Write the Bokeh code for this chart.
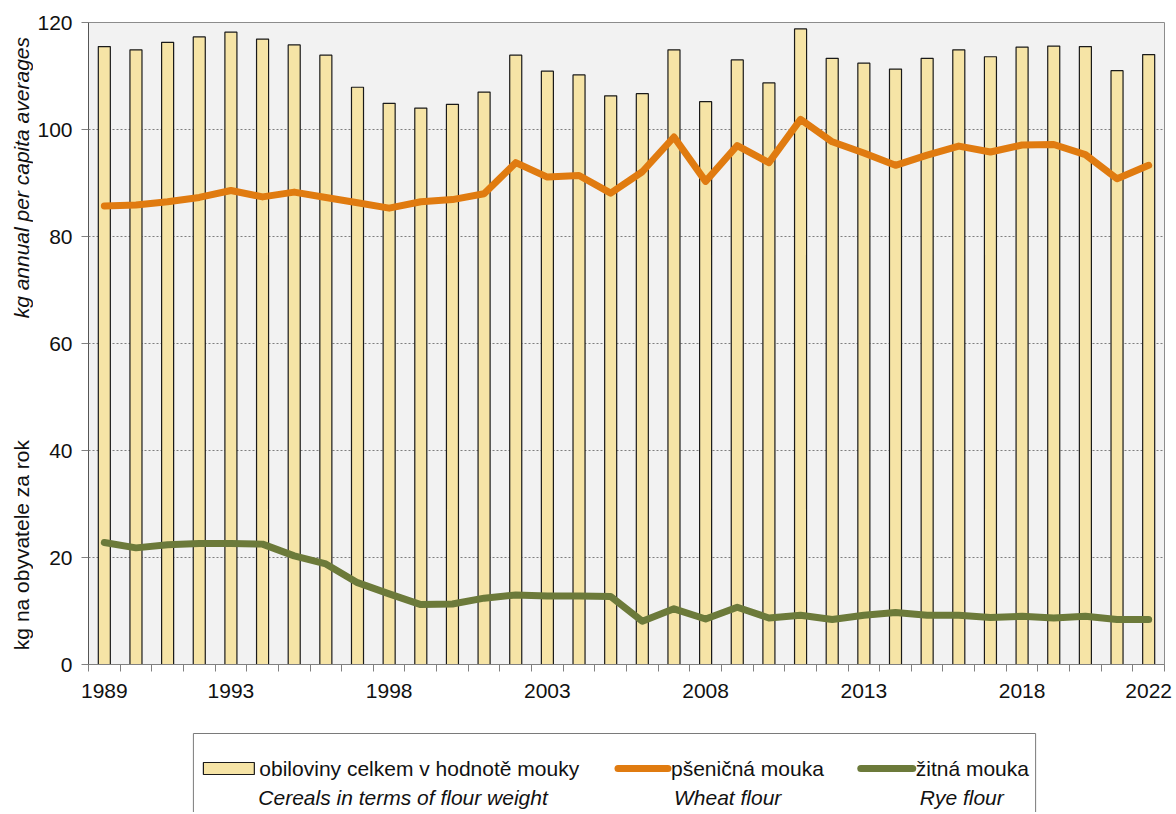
from bokeh.plotting import figure
from bokeh.models import Range1d, FixedTicker, Div
from bokeh.layouts import column, row
from bokeh.embed import file_html
from bokeh.resources import INLINE
from bokeh.core.properties import value

# ---------------- data ----------------
years = list(range(1989, 2023))
cereals = [115.5, 114.9, 116.3, 117.3, 118.2, 116.9, 115.8, 113.9, 107.9, 104.9,
           104.0, 104.7, 107.0, 113.9, 110.9, 110.2, 106.3, 106.7, 114.9, 105.2,
           113.0, 108.7, 118.8, 113.3, 112.4, 111.3, 113.3, 114.9, 113.6, 115.4,
           115.6, 115.5, 111.0, 114.0]
wheat = [85.7, 85.9, 86.5, 87.3, 88.6, 87.4, 88.3, 87.3, 86.3, 85.3,
         86.5, 86.9, 88.0, 93.8, 91.1, 91.4, 88.1, 92.1, 98.6, 90.3,
         97.0, 93.8, 101.9, 97.7, 95.6, 93.3, 95.2, 96.9, 95.8, 97.1,
         97.2, 95.3, 90.8, 93.3]
rye = [22.8, 21.8, 22.4, 22.6, 22.6, 22.5, 20.3, 18.8, 15.3, 13.2,
       11.2, 11.3, 12.4, 13.0, 12.8, 12.8, 12.7, 8.1, 10.4, 8.5,
       10.7, 8.7, 9.2, 8.4, 9.2, 9.7, 9.2, 9.2, 8.8, 9.0,
       8.7, 9.0, 8.4, 8.4]
tick_years = [1989, 1993, 1998, 2003, 2008, 2013, 2018, 2022]
tick_labels = ["1989", "1993", "1998", "2003", "2008", "2013", "2018", "2022"]
y_ticks = [0, 20, 40, 60, 80, 100, 120]
legend_cz = ["obiloviny celkem v hodnotě mouky", "pšeničná mouka", "žitná mouka"]
legend_en = ["Cereals in terms of flour weight", "Wheat flour", "Rye flour"]
ylabel_cz = "kg na obyvatele za rok"
ylabel_en = "kg annual per capita averages"

# ---------------- styles ----------------
FONT = "Liberation Sans"
FS = "21px"
BAR_FILL = "#F6E4A6"
BAR_LINE = "#1a1a1a"
WHEAT_C = "#E07B10"
RYE_C = "#6C7A3A"
GRID_C = "#7f7f7f"

DIV_W = 34
W = 1172 - DIV_W
BL, BR, BT, BB = 87 - DIV_W, 8, 22, 52
H = 716
LEG_H = 96

x0, x1 = years[0] - 0.5, years[-1] + 0.5

# ---------------- main chart ----------------
p = figure(width=W, height=H,
           x_range=Range1d(x0, x1), y_range=Range1d(0, 120),
           output_backend="svg", toolbar_location=None,
           min_border_left=BL, min_border_right=BR,
           min_border_top=BT, min_border_bottom=BB,
           background_fill_color="#F2F2F2", border_fill_color="white",
           outline_line_color="#8c8c8c")

p.vbar(x=years, top=cereals, width=0.38, bottom=0,
       fill_color=BAR_FILL, line_color=BAR_LINE, line_width=1.2)
p.line(x=years, y=wheat, line_color=WHEAT_C, line_width=7,
       line_join="round", line_cap="round")
p.line(x=years, y=rye, line_color=RYE_C, line_width=7,
       line_join="round", line_cap="round")

# x axis: labels at selected years, tick marks at category boundaries
xa = p.xaxis[0]
xa.ticker = FixedTicker(ticks=tick_years,
                        minor_ticks=[y - 0.5 for y in years] + [years[-1] + 0.5])
xa.major_label_overrides = {y: l for y, l in zip(tick_years, tick_labels)}
xa.major_tick_out = 0
xa.major_tick_in = 0
xa.minor_tick_out = 7
xa.minor_tick_in = 0
xa.minor_tick_line_color = "#808080"
xa.axis_line_color = "#808080"
xa.major_label_standoff = 12
xa.major_label_text_font = FONT
xa.major_label_text_font_size = FS
xa.major_label_text_color = "#111111"

ya = p.yaxis[0]
ya.ticker = FixedTicker(ticks=y_ticks)
ya.major_tick_out = 7
ya.major_tick_in = 0
ya.minor_tick_out = 0
ya.minor_tick_in = 0
ya.major_tick_line_color = "#808080"
ya.axis_line_color = "#555555"
ya.major_label_standoff = 9
ya.major_label_text_font = FONT
ya.major_label_text_font_size = FS
ya.major_label_text_color = "#111111"

p.xgrid.visible = False
p.ygrid.ticker = FixedTicker(ticks=y_ticks)
p.ygrid.grid_line_color = GRID_C
p.ygrid.grid_line_dash = "2 2"
p.ygrid.grid_line_width = 1

# ---------------- legend (separate strip, frame aligned with main frame) ----------------
lg = figure(width=W, height=LEG_H,
            x_range=Range1d(87, 1164), y_range=Range1d(LEG_H, 0),
            output_backend="svg", toolbar_location=None,
            min_border_left=BL, min_border_right=BR,
            min_border_top=0, min_border_bottom=0,
            x_axis_location=None, y_axis_location=None,
            outline_line_color=None, background_fill_color="white",
            border_fill_color="white")
lg.grid.visible = False

lg.quad(left=[192], right=[1035], top=[17], bottom=[200],
        fill_color=None, line_color="#7a7a7a", line_width=1)
lg.quad(left=[202], right=[253], top=[46], bottom=[58],
        fill_color=BAR_FILL, line_color=BAR_LINE, line_width=1.2)
lg.line(x=[617, 667], y=[52, 52], line_color=WHEAT_C, line_width=7, line_cap="round")
lg.line(x=[860, 912], y=[52, 52], line_color=RYE_C, line_width=7, line_cap="round")
lg.text(x=[258, 670, 915], y=[52, 52, 52], text=legend_cz,
        text_font=value(FONT), text_font_size=FS, text_color="#111111",
        text_align="left", text_baseline="middle")
lg.text(x=[257, 673, 919], y=[81, 81, 81], text=legend_en,
        text_font=value(FONT), text_font_size=FS, text_font_style="italic",
        text_color="#111111", text_align="left", text_baseline="middle")

# ---------------- y axis title (two parts in one column) ----------------
vstyle = ("position:absolute;left:10px;writing-mode:vertical-rl;"
          "transform:rotate(180deg);white-space:nowrap;line-height:24px;")
html = (
    f'<div style="position:relative;width:{DIV_W}px;height:{H + LEG_H}px;'
    f"font-family:'{FONT}';font-size:{FS};color:#111111;\">"
    f'<div style="{vstyle}bottom:{H + LEG_H - 650}px;">{ylabel_cz}</div>'
    f'<div style="{vstyle}bottom:{H + LEG_H - 318}px;font-style:italic;">{ylabel_en}</div>'
    "</div>"
)
ydiv = Div(text=html, width=DIV_W, height=H + LEG_H, margin=(0, 0, 0, 0))

layout = row(ydiv, column(p, lg, spacing=0), spacing=0)
open("out.html", "w").write(file_html(layout, INLINE))
